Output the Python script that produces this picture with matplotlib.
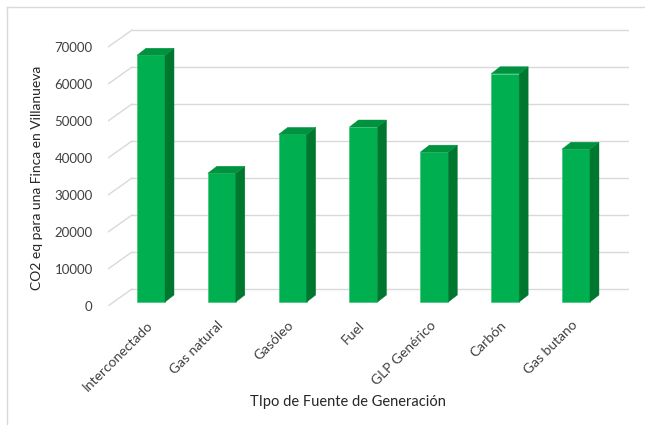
import matplotlib
matplotlib.use("Agg")
import matplotlib.pyplot as plt
from matplotlib.patches import Polygon
from matplotlib.lines import Line2D

categories = ["Interconectado", "Gas natural", "Gasóleo", "Fuel", "GLP Genérico", "Carbón", "Gas butano"]
values = [66700, 34800, 45300, 47300, 40500, 61700, 41300]
yticks = [0, 10000, 20000, 30000, 40000, 50000, 60000, 70000]
ylabel = "CO2 eq para una Finca en Villanueva"
xlabel = "TIpo de Fuente de Generación"

plt.rcParams['font.family'] = ['Lato', 'DejaVu Sans']

W, H = 645, 425
fig = plt.figure(figsize=(W / 100, H / 100), dpi=100)

# axes in pixel geometry
left_px, right_px, bottom_px, top_px = 108, 629, 306, 29
ax = fig.add_axes([left_px / W, (H - bottom_px) / H, (right_px - left_px) / W, (bottom_px - top_px) / H])

PX_X = 1 / 70.83   # category units per pixel
PX_Y = 270.3       # value units per pixel
x0 = (left_px - 151) * PX_X
x1 = (right_px - 151) * PX_X
ax.set_xlim(x0, x1)
ax.set_ylim(0, (bottom_px - top_px) * PX_Y)
for s in ax.spines.values():
    s.set_visible(False)
ax.set_xticks([])
ax.set_yticks(yticks)
ax.set_yticklabels([str(t) for t in yticks], fontsize=9.5, color="#404040")
ax.tick_params(axis='y', length=0, pad=11)

DX = 24 * PX_X
DY = 17 * PX_Y
grid_c = "#D9D9D9"
for v in yticks:
    ax.add_line(Line2D([x0, x0 + DX], [v, v + DY], color=grid_c, lw=1, zorder=1))
    ax.add_line(Line2D([x0 + DX, x1], [v + DY, v + DY], color=grid_c, lw=1, zorder=1))

bw = 28 * PX_X
sdx = 9 * PX_X
sdy = 7 * PX_Y
base = 4 * PX_Y
front_c, side_c, top_c = "#00B050", "#00772F", "#00933F"
xs = list(range(len(categories)))
ax.bar(xs, values, width=bw, bottom=base, color=front_c, zorder=3, edgecolor="#33C070", linewidth=0.4)
for x, v in zip(xs, values):
    r = x + bw / 2
    l = x - bw / 2
    ax.add_patch(Polygon([(r, base), (r + sdx, base + sdy), (r + sdx, base + v + sdy), (r, base + v)],
                         closed=True, facecolor=side_c, edgecolor=side_c, lw=0.3, zorder=3))
    ax.add_patch(Polygon([(l, base + v), (r, base + v), (r + sdx, base + v + sdy), (l + sdx, base + v + sdy)],
                         closed=True, facecolor=top_c, edgecolor=top_c, lw=0.3, zorder=3))
    ax.text(x - 0.07, -13 * PX_Y, categories[x], rotation=45, rotation_mode='anchor',
            ha='right', va='top', fontsize=10, color="#404040")

fig.text(37 / W, (H - 178) / H, ylabel, rotation=90, ha='center', va='center', fontsize=10, color="#262626")
fig.text(348 / W, (H - 402) / H, xlabel, ha='center', va='center', fontsize=10.5, color="#262626")

# chart border
fig.add_artist(Line2D([7 / W, 7 / W], [0, (H - 7) / H], color="#D9D9D9", lw=1))
fig.add_artist(Line2D([7 / W, 1], [(H - 7) / H, (H - 7) / H], color="#D9D9D9", lw=1))

fig.savefig("out.png", dpi=100)
